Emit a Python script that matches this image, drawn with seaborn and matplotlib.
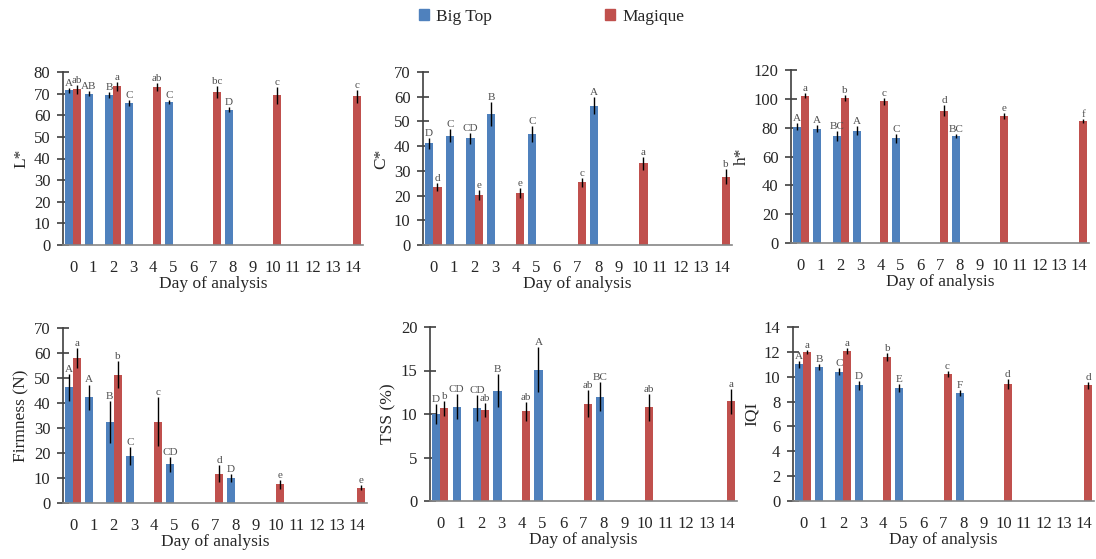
import matplotlib
matplotlib.use("Agg")
import matplotlib.pyplot as plt
from matplotlib.patches import Patch
import pandas as pd
import seaborn as sns

# Jours et cultivars
DAYS = [str(d) for d in range(15)]
CULTIVARS = ["Big Top", "Magique"]
days_big = [0, 1, 2, 3, 5, 8]
days_mag = [0, 2, 4, 7, 10, 14]

# L*
l_big = [71.5, 70.0, 69.4, 65.7, 66.2, 62.6]
l_big_err = [1.0, 1.2, 1.2, 1.2, 1.0, 1.0]
l_big_grp = ["A", "AB", "B", "C", "C", "D"]
l_mag = [72.0, 73.4, 73.1, 70.8, 69.2, 68.8]
l_mag_err = [2.0, 2.0, 1.8, 2.8, 4.0, 3.0]
l_mag_grp = ["ab", "a", "ab", "bc", "c", "c"]

# C*
c_big = [41.2, 44.3, 43.1, 53.0, 44.9, 56.4]
c_big_err = [2.2, 2.5, 2.3, 4.8, 3.4, 3.5]
c_big_grp = ["D", "C", "CD", "B", "C", "A"]
c_mag = [23.6, 20.3, 21.2, 25.3, 33.0, 27.6]
c_mag_err = [1.6, 2.0, 2.0, 1.8, 2.7, 3.0]
c_mag_grp = ["d", "e", "e", "c", "a", "b"]

# h*
h_big = [80.8, 79.4, 74.3, 78.0, 72.7, 74.3]
h_big_err = [2.5, 2.5, 3.5, 3.0, 3.0, 1.5]
h_big_grp = ["A", "A", "BC", "A", "C", "BC"]
h_mag = [102.3, 100.5, 98.2, 91.9, 88.2, 84.8]
h_mag_err = [1.5, 2.0, 2.5, 3.5, 2.0, 1.5]
h_mag_grp = ["a", "b", "c", "d", "e", "f"]

# Fermete (N)
f_big = [46.3, 42.3, 32.3, 18.8, 15.5, 10.0]
f_big_err = [5.4, 5.1, 8.4, 3.7, 3.0, 1.5]
f_big_grp = ["A", "A", "B", "C", "CD", "D"]
f_mag = [57.9, 51.4, 32.6, 11.7, 7.5, 6.2]
f_mag_err = [4.0, 5.4, 9.7, 3.4, 1.7, 1.0]
f_mag_grp = ["a", "b", "c", "d", "e", "e"]

# TSS (%)
t_big = [10.0, 10.85, 10.7, 12.7, 15.1, 12.0]
t_big_err = [1.15, 1.4, 1.5, 1.95, 2.55, 1.65]
t_big_grp = ["D", "CD", "CD", "B", "A", "BC"]
t_mag = [10.65, 10.45, 10.3, 11.2, 10.8, 11.45]
t_mag_err = [0.85, 0.85, 1.05, 1.6, 1.55, 1.45]
t_mag_grp = ["b", "ab", "ab", "ab", "ab", "a"]

# IQI
q_big = [11.0, 10.8, 10.4, 9.3, 9.1, 8.7]
q_big_err = [0.3, 0.25, 0.3, 0.35, 0.35, 0.25]
q_big_grp = ["A", "B", "C", "D", "E", "F"]
q_mag = [12.0, 12.1, 11.6, 10.2, 9.4, 9.3]
q_mag_err = [0.15, 0.25, 0.3, 0.25, 0.4, 0.3]
q_mag_grp = ["a", "a", "b", "c", "d", "d"]

COLORS = {"Big Top": "#4F81BD", "Magique": "#C0504D"}

sns.set_theme(style="white")
plt.rcParams["font.family"] = ["Liberation Serif", "DejaVu Serif"]

W, H = 1096, 559
fig = plt.figure(figsize=(W / 100, H / 100), dpi=100)

# (ylabel, ymax, pas, big, big_err, big_grp, mag, mag_err, mag_grp, boite px gauche/haut/droite/bas)
panels = [
    ("L*", 80, 10, l_big, l_big_err, l_big_grp, l_mag, l_mag_err, l_mag_grp, (63, 72, 363, 245)),
    ("C*", 70, 10, c_big, c_big_err, c_big_grp, c_mag, c_mag_err, c_mag_grp, (423, 72, 732, 245)),
    ("h*", 120, 20, h_big, h_big_err, h_big_grp, h_mag, h_mag_err, h_mag_grp, (791, 70, 1089, 243)),
    ("Firmness (N)", 70, 10, f_big, f_big_err, f_big_grp, f_mag, f_mag_err, f_mag_grp, (63, 328, 367, 503)),
    ("TSS (%)", 20, 5, t_big, t_big_err, t_big_grp, t_mag, t_mag_err, t_mag_grp, (430, 327, 737, 501)),
    ("IQI", 14, 2, q_big, q_big_err, q_big_grp, q_mag, q_mag_err, q_mag_grp, (793, 327, 1094, 501)),
]

for ylabel, ymax, step, big, big_err, big_grp, mag, mag_err, mag_grp, box in panels:
    l, t, r, b = box
    ax = fig.add_axes([l / W, 1 - b / H, (r - l) / W, (b - t) / H])

    df = pd.DataFrame({
        "day": [str(d) for d in days_big] + [str(d) for d in days_mag],
        "value": big + mag,
        "cultivar": ["Big Top"] * len(big) + ["Magique"] * len(mag),
    })
    sns.barplot(data=df, x="day", y="value", hue="cultivar", order=DAYS,
                hue_order=CULTIVARS, palette=COLORS, errorbar=None, saturation=1,
                width=0.8, legend=False, ax=ax, linewidth=0)

    # barres d'erreur + lettres de groupes
    for cont, errs, grps in zip(ax.containers, [big_err, mag_err], [big_grp, mag_grp]):
        for bar, err, grp in zip(cont, errs, grps):
            x = bar.get_x() + bar.get_width() / 2
            h = bar.get_height()
            ax.errorbar(x, h, yerr=err, fmt="none", ecolor="black", elinewidth=1, capsize=0)
            ax.text(x, h + err, grp, ha="center", va="bottom", fontsize=8, color="#505050")

    ax.set_xlim(-0.5, 14.5)
    ax.set_ylim(0, ymax)
    ax.set_yticks(range(0, ymax + 1, step))
    ax.set_xlabel("Day of analysis", fontsize=12.5, labelpad=0)
    ax.set_ylabel(ylabel, fontsize=12.5, labelpad=3)

    for s in ["top", "right"]:
        ax.spines[s].set_visible(False)
    ax.spines["left"].set_color("#404040")
    ax.spines["left"].set_linewidth(1.2)
    ax.spines["bottom"].set_color("#868686")
    ax.spines["bottom"].set_linewidth(1.2)
    ax.tick_params(axis="y", direction="inout", length=8, width=1.2, color="#404040",
                   labelsize=12, pad=5, left=True)
    ax.tick_params(axis="x", length=0, labelsize=12, pad=11)

handles = [Patch(color=COLORS[c]) for c in CULTIVARS]
fig.legend(handles, CULTIVARS, loc="upper center", bbox_to_anchor=(0.503, 1.012), ncol=2,
           frameon=False, fontsize=12.5, handlelength=0.6, handleheight=0.6,
           handletextpad=0.4, columnspacing=6.5)

fig.savefig("out.png", dpi=100)
